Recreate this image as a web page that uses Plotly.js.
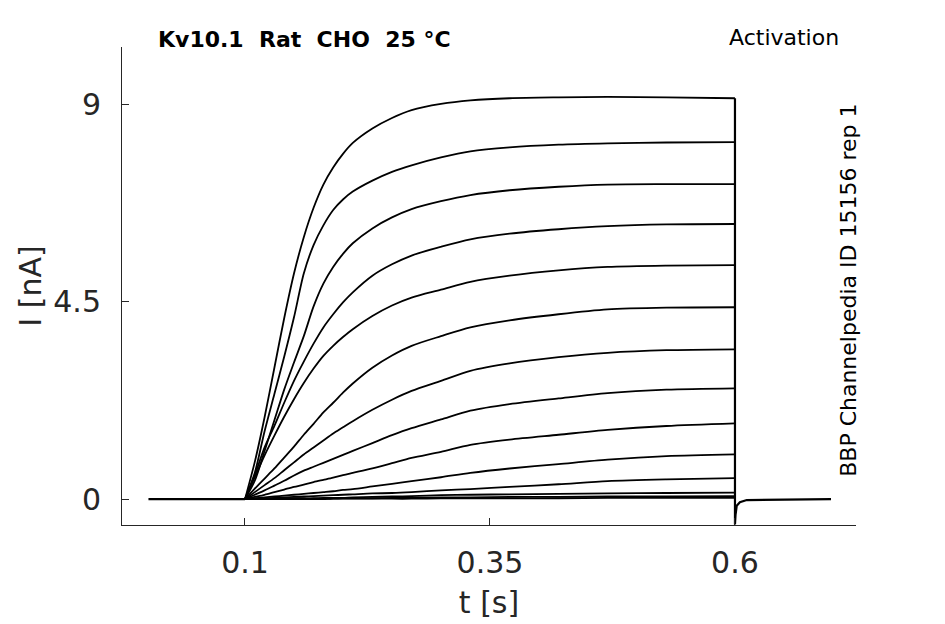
<!DOCTYPE html>
<html>
<head>
<meta charset="utf-8">
<script src="https://cdn.plot.ly/plotly-3.0.1.min.js"></script>
<style>
    html, body { margin: 0; padding: 0; background: #fff; }
    #chart { width: 945px; height: 624px; }
</style>
</head>
<body>
<div id="chart"></div>
<script>
// sample times during the step (s) and current per sweep (nA)
const stepT = [0.1, 0.11, 0.12, 0.13, 0.14, 0.15, 0.16, 0.17, 0.18, 0.19, 0.2, 0.21, 0.23, 0.25, 0.27, 0.3, 0.33, 0.37, 0.42, 0.47, 0.53, 0.6];

const sweep1 = [0, 0.85, 1.87, 3.0, 4.13, 5.15, 5.98, 6.65, 7.18, 7.57, 7.88, 8.13, 8.46, 8.7, 8.88, 9.02, 9.1, 9.15, 9.17, 9.18, 9.17, 9.15];
const sweep2 = [0, 0.6, 1.55, 2.4, 3.25, 4.15, 5.15, 5.8, 6.25, 6.6, 6.84, 7.02, 7.27, 7.47, 7.62, 7.8, 7.94, 8.03, 8.09, 8.12, 8.14, 8.15];
const sweep3 = [0, 0.42, 1.1, 1.8, 2.5, 3.12, 3.72, 4.4, 4.92, 5.3, 5.6, 5.84, 6.18, 6.43, 6.62, 6.8, 6.94, 7.05, 7.13, 7.18, 7.19, 7.19];
const sweep4 = [0, 0.55, 1.18, 1.67, 2.2, 2.7, 3.14, 3.55, 3.92, 4.22, 4.49, 4.72, 5.1, 5.36, 5.56, 5.76, 5.93, 6.06, 6.16, 6.23, 6.27, 6.28];
const sweep5 = [0, 0.5, 1.0, 1.45, 1.88, 2.28, 2.65, 2.98, 3.27, 3.5, 3.7, 3.88, 4.18, 4.42, 4.6, 4.78, 4.96, 5.1, 5.22, 5.3, 5.33, 5.34];
const sweep6 = [0, 0.24, 0.47, 0.7, 0.95, 1.2, 1.47, 1.72, 1.98, 2.2, 2.43, 2.64, 3.0, 3.28, 3.5, 3.72, 3.92, 4.08, 4.22, 4.33, 4.37, 4.38];
const sweep7 = [0, 0.16, 0.32, 0.48, 0.66, 0.84, 1.02, 1.18, 1.34, 1.5, 1.64, 1.78, 2.04, 2.27, 2.47, 2.7, 2.93, 3.1, 3.24, 3.34, 3.4, 3.42];
const sweep8 = [0, 0.1, 0.2, 0.31, 0.42, 0.54, 0.65, 0.74, 0.83, 0.92, 1.01, 1.1, 1.28, 1.46, 1.62, 1.82, 2.02, 2.17, 2.3, 2.42, 2.5, 2.53];
const sweep9 = [0, 0.05, 0.1, 0.16, 0.22, 0.28, 0.33, 0.39, 0.44, 0.49, 0.55, 0.6, 0.7, 0.82, 0.94, 1.08, 1.24, 1.36, 1.47, 1.58, 1.67, 1.73];
const sweep10 = [0, 0.02, 0.04, 0.06, 0.08, 0.1, 0.12, 0.14, 0.16, 0.18, 0.21, 0.23, 0.29, 0.35, 0.41, 0.5, 0.6, 0.7, 0.8, 0.9, 0.98, 1.02];
const sweep11 = [0, 0.01, 0.02, 0.03, 0.04, 0.05, 0.06, 0.07, 0.08, 0.09, 0.1, 0.11, 0.13, 0.14, 0.16, 0.2, 0.23, 0.28, 0.34, 0.41, 0.45, 0.48];
const sweep12 = [0, 0, 0.01, 0.01, 0.01, 0.02, 0.02, 0.02, 0.03, 0.03, 0.03, 0.04, 0.05, 0.06, 0.07, 0.09, 0.1, 0.11, 0.12, 0.13, 0.14, 0.15];
const sweep13 = [0, 0, 0, 0, 0.01, 0.01, 0.01, 0.01, 0.01, 0.01, 0.02, 0.02, 0.02, 0.03, 0.03, 0.04, 0.04, 0.05, 0.05, 0.06, 0.06, 0.07];
const sweep14 = [0, 0, 0, 0, 0, 0, 0, 0, 0, 0.01, 0.01, 0.01, 0.01, 0.01, 0.01, 0.02, 0.02, 0.02, 0.02, 0.03, 0.03, 0.03];

// holding level before the step, and the capacitive spike + tail after it
const holdT = [0.0015, 0.1];
const holdI = [0, 0];
const tailT = [0.6, 0.6006, 0.6018, 0.605, 0.612, 0.698];
const tailI = [-0.58, -0.35, -0.15, -0.07, -0.02, 0];

const xTicks = [0.1, 0.35, 0.6];
const yTicks = [0, 4.5, 9];

const sweeps = [sweep1, sweep2, sweep3, sweep4, sweep5, sweep6, sweep7, sweep8, sweep9, sweep10, sweep11, sweep12, sweep13, sweep14];
const axisColor = '#262626';
const fontFamily = '"DejaVu Sans", "Liberation Sans", sans-serif';

const traces = [];

traces.push({
    x: holdT, y: holdI, type: 'scatter', mode: 'lines',
    line: { color: '#000', width: 2.4 }, hoverinfo: 'skip'
});

sweeps.forEach(function (s) {
    traces.push({
        x: stepT, y: s, type: 'scatter', mode: 'lines',
        line: { color: '#000', width: 1.8, shape: 'spline', smoothing: 0.8 },
        hoverinfo: 'skip'
    });
});

// vertical drop at step end: from the largest sweep down into the spike
const topEnd = Math.max(...sweeps.map(s => s[s.length - 1]));
traces.push({
    x: [tailT[0]].concat(tailT), y: [topEnd].concat(tailI), type: 'scatter', mode: 'lines',
    line: { color: '#000', width: 2.2 }, hoverinfo: 'skip'
});

const layout = {
    width: 945, height: 624,
    paper_bgcolor: '#fff', plot_bgcolor: '#fff',
    showlegend: false,
    font: { family: fontFamily, color: axisColor },
    margin: { l: 122, r: 89, t: 47, b: 99 },
    xaxis: {
        range: [-0.0255, 0.7235],
        tickvals: xTicks, ticktext: xTicks.map(String),
        ticks: 'inside', ticklen: 7, tickcolor: axisColor, tickwidth: 1,
        showline: true, linecolor: axisColor, linewidth: 1,
        showgrid: false, zeroline: false,
        tickfont: { size: 30, color: axisColor },
        ticklabelstandoff: 11,
        title: { text: 't [s]', font: { size: 30, color: axisColor }, standoff: 12 }
    },
    yaxis: {
        range: [-0.59, 10.32],
        tickvals: yTicks, ticktext: yTicks.map(String),
        ticks: 'inside', ticklen: 7, tickcolor: axisColor, tickwidth: 1,
        showline: true, linecolor: axisColor, linewidth: 1,
        showgrid: false, zeroline: false,
        tickfont: { size: 30, color: axisColor },
        ticklabelstandoff: 14,
        title: { text: 'I [nA]', font: { size: 30, color: axisColor }, standoff: 2 }
    },
    annotations: [
        {
            text: '<b>Kv10.1\u00a0\u00a0Rat\u00a0\u00a0CHO\u00a0\u00a025\u00a0°C</b>',
            xref: 'paper', yref: 'paper', x: 0.046, y: 1.015,
            xanchor: 'left', yanchor: 'middle', showarrow: false,
            font: { size: 22, color: '#000' }
        },
        {
            text: 'Activation',
            xref: 'paper', yref: 'paper', x: 0.979, y: 1.019,
            xanchor: 'right', yanchor: 'middle', showarrow: false,
            font: { size: 22, color: '#000' }
        },
        {
            text: 'BBP Channelpedia ID 15156 rep 1',
            xref: 'paper', yref: 'paper', x: 0.9905, y: 0.49,
            xanchor: 'center', yanchor: 'middle', showarrow: false, textangle: -90,
            font: { size: 22, color: '#000' }
        }
    ]
};

Plotly.newPlot('chart', traces, layout, { staticPlot: true, displayModeBar: false });
</script>
</body>
</html>
